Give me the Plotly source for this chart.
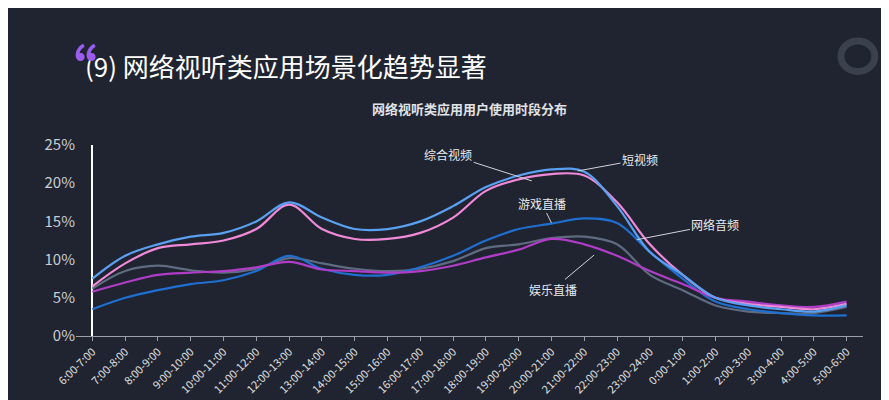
import plotly.graph_objects as go

cats = ["6:00-7:00","7:00-8:00","8:00-9:00","9:00-10:00","10:00-11:00","11:00-12:00","12:00-13:00",
        "13:00-14:00","14:00-15:00","15:00-16:00","16:00-17:00","17:00-18:00","18:00-19:00","19:00-20:00",
        "20:00-21:00","21:00-22:00","22:00-23:00","23:00-24:00","0:00-1:00","1:00-2:00","2:00-3:00",
        "3:00-4:00","4:00-5:00","5:00-6:00"]
short_video = [7.5,10.5,12,13,13.5,15,17.5,15.5,14,14,15,17,19.5,21,21.8,21.5,17,11,8,5,4,3.5,3.2,4]
general_video = [6.5,9.5,11.5,12,12.5,14,17.2,14,12.7,12.7,13.5,15.5,19,20.5,21.2,21,17.5,12,8,5,4.2,3.8,3.5,4.2]
game_live = [3.5,5,6,6.8,7.3,8.5,10.5,8.8,8,8,9,10.5,12.5,14,14.7,15.4,14.8,11,7.5,4.5,3.5,3,2.7,2.7]
audio = [6.2,8.5,9.2,8.6,8.3,8.8,10.2,9.5,8.8,8.5,8.8,9.8,11.5,12,12.8,13,12,8,6,4,3.2,3,3,3.8]
ent_live = [5.8,7,8,8.3,8.5,9,9.7,8.7,8.5,8.3,8.5,9.2,10.3,11.3,12.7,12,10.5,8.5,6.8,5,4.5,4,3.8,4.5]

series = [("网络音频", audio, "#5f6b80"), ("游戏直播", game_live, "#1f6fd1"),
          ("娱乐直播", ent_live, "#b03cc8"), ("综合视频", general_video, "#f08ad8"),
          ("短视频", short_video, "#5aa0f2")]
fig = go.Figure()
for name, vals, col in series:
    fig.add_trace(go.Scatter(x=list(range(len(cats))), y=vals, name=name, mode="lines",
                             line=dict(color=col, width=2.2, shape="spline", smoothing=1.0)))

font = "Noto Sans CJK SC"
# (text, tip index, tip value, label index, label value)
ann = [("综合视频", 13.4, 20.3, 10.85, 23.8), ("短视频", 14.8, 21.6, 16.7, 23.1),
       ("游戏直播", 14.0, 14.8, 13.7, 17.4), ("网络音频", 16.6, 12.6, 19.0, 14.6),
       ("娱乐直播", 15.3, 10.6, 14.05, 6.1)]
for t, xi, yv, lx, ly in ann:
    fig.add_annotation(x=xi, y=yv, xref="x", yref="y", text=t, showarrow=True,
                       arrowhead=0, arrowcolor="#cfd3da", arrowwidth=1,
                       ax=lx, ay=ly, axref="x", ayref="y",
                       font=dict(color="#e8eaee", size=12, family=font))
fig.add_annotation(text="(9) 网络视听类应用场景化趋势显著", x=0.009, y=1, xref="paper", yref="paper",
                   xanchor="left", yanchor="middle", yshift=80, showarrow=False,
                   font=dict(color="white", size=26, family=font))
fig.add_annotation(text="<b>“</b>", x=-0.045, y=1, xref="paper", yref="paper", yanchor="middle",
                   xanchor="left", showarrow=False, font=dict(size=54, color="#9b5cf0", family=font),
                   yshift=78)
fig.add_annotation(text="<b>网络视听类应用用户使用时段分布</b>", x=0.5, y=1, xref="paper", yref="paper",
                   xanchor="center", yanchor="middle", showarrow=False, yshift=37,
                   font=dict(size=13, color="#e0e2e6", family=font))
fig.update_layout(
    width=889, height=400, paper_bgcolor="#1f2430", plot_bgcolor="#1f2430",
    margin=dict(l=68, r=34, t=137, b=50), showlegend=False,
    font=dict(family=font, color="#d8dbe0"),
    xaxis=dict(tickmode="array", tickvals=list(range(len(cats))), ticktext=cats,
               range=[-0.5, len(cats) - 0.5],
               tickangle=-45, tickfont=dict(size=11, color="#e0e0e0"), showgrid=False,
               showline=True, linecolor="#9aa0aa", ticks="outside", tickcolor="#9aa0aa", ticklen=4),
    yaxis=dict(range=[0, 25], tickvals=[0,5,10,15,20,25], ticktext=["0%","5%","10%","15%","20%","25%"],
               showgrid=False, tickfont=dict(size=15, color="#c8ccd2"), zeroline=False),
)
fig.add_shape(type="circle", xref="paper", yref="paper", x0=0.972, x1=1.015, y0=1.385, y1=1.545,
              line=dict(color="#3a404c", width=7))
fig.write_html("out.html")
